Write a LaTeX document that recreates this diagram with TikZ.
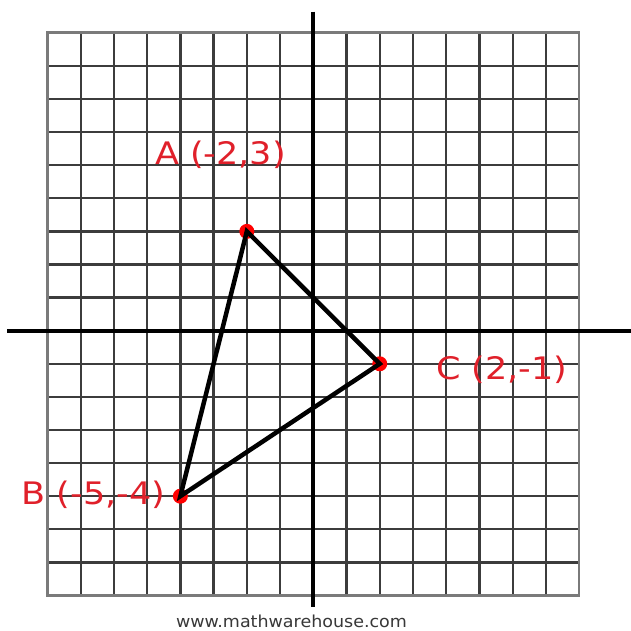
\documentclass[tikz,border=0pt]{standalone}
\usepackage{fontspec}
\setmainfont{DejaVu Sans}
\definecolor{gridc}{HTML}{3C3C3C}
\definecolor{borderc}{HTML}{7A7A7A}
\definecolor{labc}{HTML}{E0202A}
\definecolor{wmc}{HTML}{383838}
\begin{document}
\begin{tikzpicture}[x=33.23pt,y=33.1pt,
  gridline/.style={draw=gridc,line width=2.3pt,xstep=33.23pt,ystep=33.1pt},
  axisline/.style={draw=black,line width=3.8pt},
  sideline/.style={draw=black,line width=4.5pt,line cap=round},
  ptdot/.style={circle,fill=red,draw=none,minimum size=15pt,inner sep=0pt},
  ptlabel/.style={text=labc,font=\fontsize{31}{31}\selectfont,xscale=1.13,anchor=base,inner sep=0pt},
  wmlabel/.style={text=wmc,font=\fontsize{16.5}{16.5}\selectfont,xscale=1.06,anchor=base,inner sep=0pt}]
\useasboundingbox[fill=white] (-9.428,-9.073) rectangle (9.560,9.991);
% grid
\draw[gridline] (-8,-8) grid (8,9);
\draw[draw=borderc,line width=2.6pt] (-8,-8) rectangle (8,9);
% axes
\coordinate (xl) at (-9.215,0);
\coordinate (xr) at (9.560,0);
\coordinate (yt) at (0,9.64);
\coordinate (yb) at (0,-8.35);
\draw[axisline] (xl) -- (xr);
\draw[axisline] (yt) -- (yb);
% vertices
\node[ptdot] (A) at (-2,3) {};
\node[ptdot] (B) at (-4,-5) {};
\node[ptdot] (C) at (2,-1) {};
\draw[sideline] (A.center) -- (C.center) -- (B.center) -- cycle;
% labels
\node[ptlabel] (lA) at (-2.793,5.027) {A (-2,3)};
\node[ptlabel] (lC) at (5.679,-1.489) {C (2,-1)};
\node[ptlabel] (lB) at (-6.614,-5.245) {B (-5,-4)};
\node[wmlabel] (wm) at (-0.656,-8.973) {www.mathwarehouse.com};
\end{tikzpicture}
\end{document}
